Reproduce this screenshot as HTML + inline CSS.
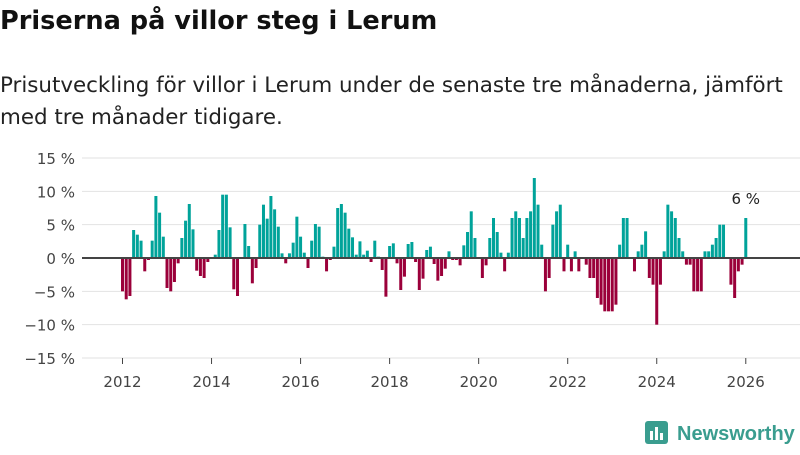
<!DOCTYPE html>
<html><head><meta charset="utf-8"><style>
body{margin:0;width:800px;height:450px;background:#fff;font-family:"Liberation Sans",sans-serif;overflow:hidden}
svg text{font-family:"DejaVu Sans","Liberation Sans",sans-serif}
</style></head><body>
<svg id="chart" width="800" height="450" viewBox="0 0 800 450">
<text x="0" y="29" font-size="25.6" font-weight="bold" fill="#111">Priserna på villor steg i Lerum</text>
<text x="0" y="92" font-size="21.4" fill="#222">Prisutveckling för villor i Lerum under de senaste tre månaderna, jämfört</text>
<text x="0" y="124" font-size="21.4" fill="#222">med tre månader tidigare.</text>
<g id="grid"></g><g id="bars"></g><g id="axes"></g>
<g>
<rect x="645" y="421" width="23" height="23" rx="3" fill="#3a9d8f"/>
<rect x="650" y="431" width="3" height="9" fill="#fff"/><rect x="655" y="427" width="3" height="13" fill="#fff"/><rect x="660" y="433" width="3" height="7" fill="#fff"/>
<text x="677" y="440" font-size="20" font-weight="bold" fill="#3a9d8f" style="font-family:'Liberation Sans',sans-serif">Newsworthy</text>
</g>
</svg>
<script>
const values=[-5,-6.2,-5.7,4.2,3.5,2.6,-2,-0.3,2.6,9.3,6.8,3.2,-4.5,-5,-3.6,-0.8,3,5.6,8.1,4.3,-1.9,-2.7,-3,-0.6,0,0.5,4.2,9.5,9.5,4.6,-4.7,-5.7,0,5.1,1.8,-3.8,-1.5,5,8,5.9,9.3,7.3,4.7,0.7,-0.8,0.7,2.3,6.2,3.2,0.8,-1.5,2.6,5.1,4.7,0.2,-2,-0.3,1.7,7.5,8.1,6.8,4.4,3.1,0.5,2.5,0.5,1.1,-0.6,2.6,0.2,-1.8,-5.8,1.8,2.2,-0.8,-4.8,-2.8,2.1,2.4,-0.6,-4.8,-3.1,1.2,1.7,-0.9,-3.4,-2.7,-1.6,1.0,-0.3,-0.3,-1.1,1.9,3.9,7,3,0,-3,-1.1,3,6,3.9,0.8,-2,0.8,6,7,6,3,6,7,12,8,2,-5,-3,5,7,8,-2,2,-2,1,-2,0,-1,-3,-3,-6,-7,-8,-8,-8,-7,2,6,6,0,-2,1,2,4,-3,-4,-10,-4,1,8,7,6,3,1,-1,-1,-5,-5,-5,1,1,2,3,5,5,0,-4,-6,-2,-1,6];
const yTicks=[15,10,5,0,-5,-10,-15];
const xTickYears=[2012,2014,2016,2018,2020,2022,2024,2026];
const lastLabel="6 %";
const NS="http://www.w3.org/2000/svg";
const x0=121,step=3.71,y0=258,ppu=100/15;
const xs=i=>x0+i*step, ys=v=>y0-v*ppu;
function mk(t,a,p){const e=document.createElementNS(NS,t);for(const k in a)e.setAttribute(k,a[k]);p.appendChild(e);return e;}
const grid=document.getElementById('grid'),bars=document.getElementById('bars'),axes=document.getElementById('axes');
yTicks.forEach(v=>{
 const l=mk('line',{x1:82,x2:800,y1:ys(v),y2:ys(v),stroke:'#e2e2e2','stroke-width':1},grid);
 
 
 const t=mk('text',{x:75,y:ys(v)+6,'text-anchor':'end','font-size':15,fill:'#444'},axes);
 t.textContent=(v<0?'−'+(-v):v)+' %';
 
 
});
values.forEach((v,i)=>{
 const r=mk('rect',{x:xs(i),y:v>=0?ys(v):y0,width:3,height:Math.abs(v)*ppu,fill:v>=0?'#00a39a':'#9b003a'},bars);
 
 
});
const z=mk('line',{x1:82,x2:800,y1:y0,y2:y0,stroke:'#444','stroke-width':2},axes);


xTickYears.forEach(yr=>{
 const i=(yr-2012)*12,x=xs(i)+1.5;
 const tk=mk('line',{x1:x,x2:x,y1:358,y2:364,stroke:'#444'},axes);
 
 
 const t=mk('text',{x:x,y:387,'text-anchor':'middle','font-size':15,fill:'#444'},axes);
 t.textContent=yr;
 
 
});
const li=values.length-1;
const lt=mk('text',{x:xs(li)+1.5,y:ys(values[li])-14,'text-anchor':'middle','font-size':15,fill:'#222'},axes);
lt.textContent=lastLabel;


</script>
</body></html>
